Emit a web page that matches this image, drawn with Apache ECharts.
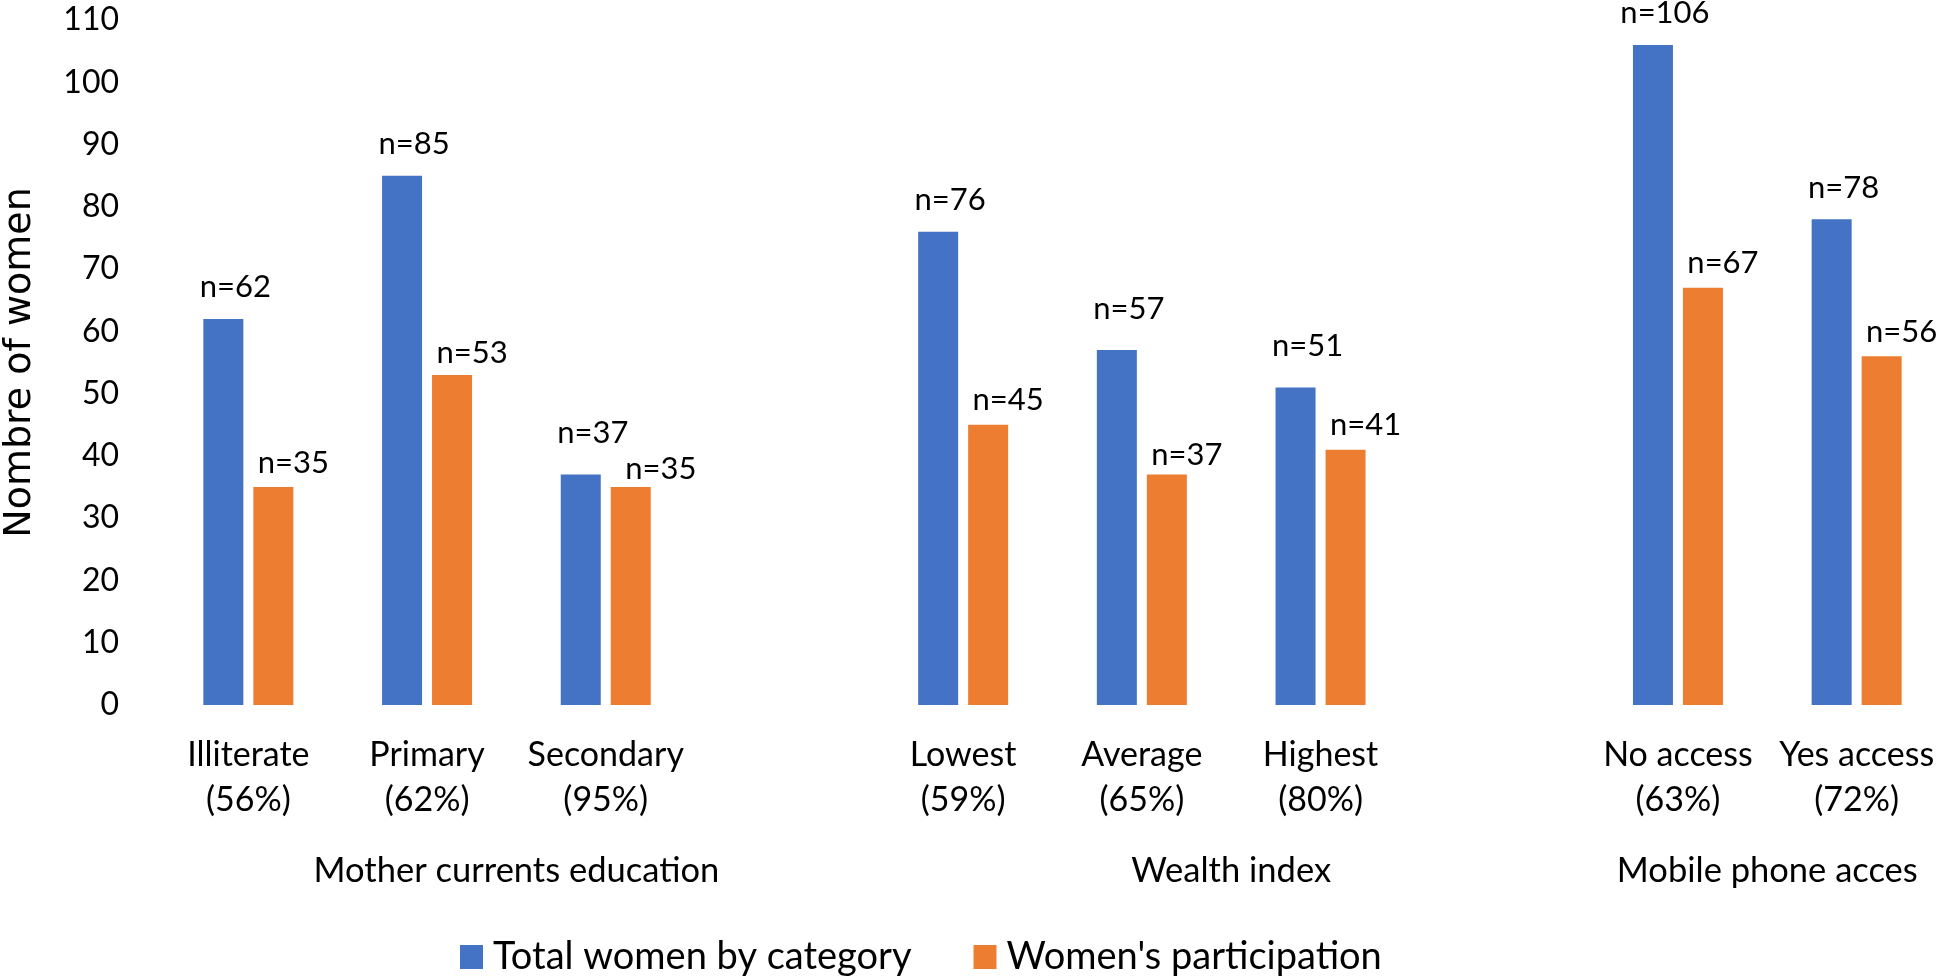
<!DOCTYPE html>
<html>
<head>
<meta charset="utf-8">
<script src="https://cdn.jsdelivr.net/npm/echarts@6/dist/echarts.min.js"></script>
<style>
  html, body { margin: 0; padding: 0; background: #fff; }
  #chart { width: 1940px; height: 976px; }
</style>
</head>
<body>
<div id="chart"></div>
<script>
// groups of categories, with participation share shown under each label
const groupNames = ['Mother currents education', 'Wealth index', 'Mobile phone acces']
const groupCategories = [
  ['Illiterate', 'Primary', 'Secondary'],
  ['Lowest', 'Average', 'Highest'],
  ['No access', 'Yes access']
]
const groupShares = [
  ['56%', '62%', '95%'],
  ['59%', '65%', '80%'],
  ['63%', '72%']
]
const totalWomen = [
  [62, 85, 37],
  [76, 57, 51],
  [106, 78]
]
const participation = [
  [35, 53, 35],
  [45, 37, 41],
  [67, 56]
]
const seriesNames = ['Total women by category', "Women's participation"]
const yTicks = { min: 0, max: 110, step: 10 }

// Excel nudged a few data labels apart; extra lift (px) per category
const labelLift = [
  { Secondary: 10, Average: 10, Highest: 10 },
  { Primary: -3, Secondary: -6, Average: -5 }
]
const labelShiftX = [
  {},
  { Secondary: 10 }
]

const FONT = 'Lato'
const textBase = { color: '#000', fontFamily: FONT, fontSize: 32 }

// flatten groups, leaving an empty slot between groups like the original
const categories = []
const names = []
const totalData = []
const partData = []
const groupCenters = {}
groupCategories.forEach((cats, g) => {
  const start = categories.length
  cats.forEach((c, i) => {
    categories.push(c + '\n(' + groupShares[g][i] + ')')
    names.push(c)
    totalData.push(totalWomen[g][i])
    partData.push(participation[g][i])
  })
  if (g < groupCategories.length - 1) {
    categories.push('')
    names.push('')
    totalData.push(null)
    partData.push(null)
  }
  groupCenters[(start + categories.length) / 2] = groupNames[g]
})

const makeSeries = (idx, values, color, distance, dx) => ({
  name: seriesNames[idx],
  type: 'bar',
  barWidth: 40,
  barGap: '25%',
  itemStyle: { color },
  label: {
    show: true,
    position: 'top',
    distance,
    offset: [dx, 0],
    formatter: 'n={c}',
    ...textBase,
    fontSize: 31
  },
  data: values.map((v, i) => {
    if (v == null) return null
    const lift = labelLift[idx][names[i]] || 0
    const shift = labelShiftX[idx][names[i]] || 0
    if (!lift && !shift) return v
    return { value: v, label: { distance: distance + lift, offset: [dx + shift, 0] } }
  })
})

const chart = echarts.init(document.getElementById('chart'))

chart.setOption({
  animation: false,
  textStyle: { fontFamily: FONT },
  grid: { left: 159, top: 20, width: 1787, height: 685, outerBoundsMode: 'none' },
  legend: {
    data: seriesNames,
    left: 455,
    top: 933,
    icon: 'rect',
    itemWidth: 23,
    itemHeight: 24,
    itemGap: 62,
    textStyle: { ...textBase, fontSize: 38, padding: [0, 0, 0, 5] }
  },
  xAxis: [
    {
      type: 'category',
      data: categories,
      axisLine: { show: false },
      axisTick: { show: false },
      axisLabel: { interval: 0, margin: 28, lineHeight: 45, ...textBase, fontSize: 34 }
    },
    {
      type: 'value',
      position: 'bottom',
      min: 0,
      max: categories.length,
      interval: 1,
      axisLine: { show: false },
      axisTick: { show: false },
      splitLine: { show: false },
      axisLabel: {
        margin: 148,
        ...textBase,
        fontSize: 34.5,
        formatter: (v) => groupCenters[v] || ''
      }
    }
  ],
  yAxis: {
    type: 'value',
    min: yTicks.min,
    max: yTicks.max,
    interval: yTicks.step,
    name: 'Nombre of women',
    nameLocation: 'middle',
    nameGap: 120,
    nameTextStyle: { color: '#000', fontFamily: 'DejaVu Sans', fontSize: 38 },
    axisLine: { show: false },
    axisTick: { show: false },
    splitLine: { show: false },
    axisLabel: { margin: 40, ...textBase }
  },
  series: [
    makeSeries(0, totalData, '#4472C4', 16, 12),
    makeSeries(1, partData, '#ED7D31', 9, 20)
  ]
})
</script>
</body>
</html>
